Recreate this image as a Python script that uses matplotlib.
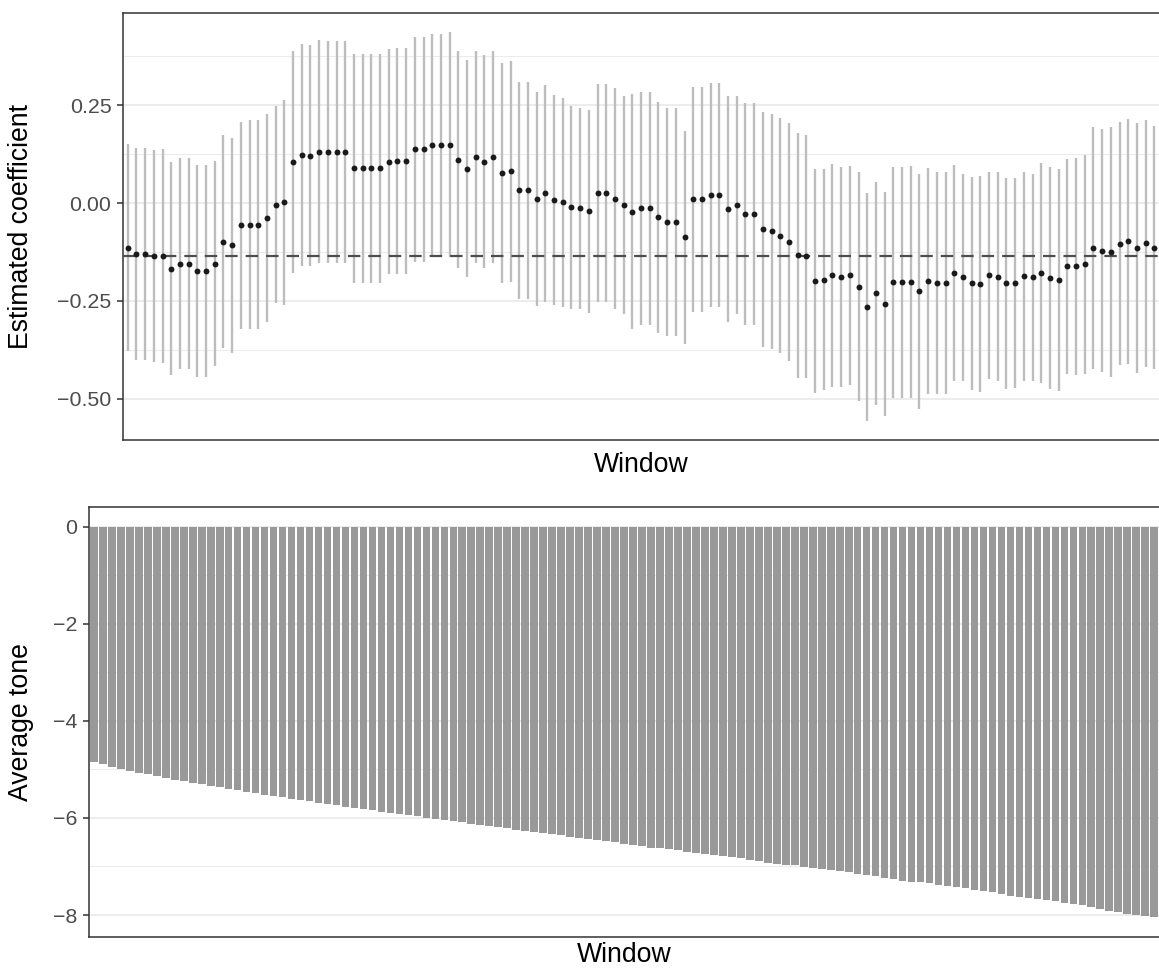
import matplotlib
matplotlib.use("Agg")
import matplotlib.pyplot as plt
import numpy as np

plt.rcParams['font.family'] = ['Liberation Sans', 'DejaVu Sans']

# rolling-window estimates (one per window)
estimate = [
    -0.114, -0.130, -0.130, -0.136, -0.136, -0.168, -0.155, -0.155, -0.173, -0.173,
    -0.155, -0.099, -0.108, -0.057, -0.055, -0.055, -0.038, -0.004, 0.002, 0.105,
    0.123, 0.121, 0.131, 0.130, 0.130, 0.130, 0.089, 0.089, 0.089, 0.089,
    0.106, 0.107, 0.107, 0.137, 0.137, 0.148, 0.148, 0.149, 0.111, 0.088,
    0.117, 0.106, 0.118, 0.077, 0.081, 0.032, 0.032, 0.011, 0.025, 0.008,
    0.002, -0.011, -0.014, -0.021, 0.026, 0.026, 0.011, -0.005, -0.022, -0.014,
    -0.014, -0.037, -0.049, -0.049, -0.088, 0.009, 0.009, 0.021, 0.021, -0.015,
    -0.005, -0.028, -0.028, -0.067, -0.072, -0.084, -0.099, -0.134, -0.136, -0.199,
    -0.196, -0.185, -0.190, -0.185, -0.214, -0.265, -0.231, -0.258, -0.203, -0.203,
    -0.201, -0.226, -0.199, -0.205, -0.205, -0.179, -0.190, -0.205, -0.208, -0.185,
    -0.188, -0.205, -0.205, -0.187, -0.190, -0.180, -0.192, -0.197, -0.162, -0.162,
    -0.157, -0.114, -0.122, -0.126, -0.104, -0.098, -0.115, -0.103, -0.114]

# half width of the confidence interval
ci_half = [
    0.265, 0.270, 0.271, 0.271, 0.273, 0.272, 0.270, 0.270, 0.271, 0.271,
    0.262, 0.272, 0.274, 0.264, 0.266, 0.266, 0.265, 0.252, 0.262, 0.284,
    0.283, 0.282, 0.285, 0.284, 0.284, 0.284, 0.293, 0.293, 0.293, 0.293,
    0.288, 0.289, 0.289, 0.287, 0.287, 0.285, 0.285, 0.287, 0.277, 0.278,
    0.271, 0.272, 0.270, 0.281, 0.282, 0.276, 0.276, 0.273, 0.277, 0.268,
    0.267, 0.260, 0.257, 0.259, 0.279, 0.279, 0.282, 0.279, 0.300, 0.298,
    0.298, 0.295, 0.292, 0.292, 0.273, 0.287, 0.287, 0.286, 0.286, 0.289,
    0.278, 0.284, 0.284, 0.300, 0.300, 0.300, 0.304, 0.313, 0.311, 0.286,
    0.283, 0.285, 0.281, 0.280, 0.292, 0.291, 0.285, 0.287, 0.295, 0.295,
    0.296, 0.301, 0.289, 0.284, 0.284, 0.276, 0.264, 0.272, 0.276, 0.265,
    0.266, 0.270, 0.268, 0.267, 0.265, 0.281, 0.284, 0.283, 0.275, 0.278,
    0.279, 0.309, 0.311, 0.319, 0.311, 0.313, 0.319, 0.315, 0.310]

# average tone per window
tone = [
    -4.85, -4.89, -4.95, -4.99, -5.03, -5.08, -5.10, -5.14, -5.18, -5.22,
    -5.24, -5.28, -5.30, -5.34, -5.37, -5.41, -5.43, -5.47, -5.49, -5.53,
    -5.55, -5.57, -5.61, -5.63, -5.65, -5.70, -5.72, -5.74, -5.78, -5.80,
    -5.82, -5.84, -5.88, -5.90, -5.92, -5.94, -5.96, -6.01, -6.03, -6.05,
    -6.07, -6.09, -6.13, -6.15, -6.17, -6.19, -6.21, -6.25, -6.27, -6.30,
    -6.32, -6.34, -6.36, -6.40, -6.42, -6.44, -6.46, -6.48, -6.50, -6.54,
    -6.56, -6.58, -6.61, -6.63, -6.65, -6.67, -6.71, -6.73, -6.75, -6.77,
    -6.79, -6.81, -6.83, -6.87, -6.89, -6.92, -6.94, -6.96, -6.98, -7.02,
    -7.04, -7.06, -7.08, -7.10, -7.12, -7.16, -7.18, -7.20, -7.23, -7.25,
    -7.29, -7.31, -7.33, -7.35, -7.39, -7.41, -7.43, -7.45, -7.49, -7.51,
    -7.53, -7.56, -7.60, -7.62, -7.64, -7.68, -7.70, -7.72, -7.76, -7.78,
    -7.80, -7.84, -7.87, -7.91, -7.93, -7.97, -7.99, -8.03, -8.05]

full_sample_coef = -0.135

top_ticks = [-0.5, -0.25, 0.0, 0.25]
top_minor = [-0.375, -0.125, 0.125, 0.375]
bottom_ticks = [-8, -6, -4, -2, 0]
bottom_minor = [-7, -5, -3, -1]

window = np.arange(1, len(estimate) + 1)
est = np.array(estimate)
hw = np.array(ci_half)

W, H = 1159, 968
fig = plt.figure(figsize=(W / 100, H / 100), dpi=100)


def add_axes_px(left, top, right, bottom):
    return fig.add_axes([left / W, 1 - bottom / H, (right - left) / W, (bottom - top) / H])


def style(ax, ticks, minor, fmt, xpad):
    ax.set_facecolor("white")
    for s in ax.spines.values():
        s.set_color("#333333")
        s.set_linewidth(1.1)
    ax.set_xticks([])
    ax.set_yticks(ticks)
    ax.set_yticklabels([fmt(t).replace("-", "\u2212") for t in ticks])
    ax.set_yticks(minor, minor=True)
    ax.tick_params(axis="y", which="major", length=4.5, width=1.1, color="#333333",
                   labelsize=15.4, labelcolor="#4d4d4d", pad=3.5)
    ax.tick_params(axis="y", which="minor", length=0)
    ax.grid(True, axis="y", which="major", color="#ebebeb", linewidth=1.3)
    ax.grid(True, axis="y", which="minor", color="#ebebeb", linewidth=0.7)
    ax.set_axisbelow(True)
    ax.set_xlim(0.4, len(window) + 0.6)
    ax.set_xlabel("Window", fontsize=19.2, labelpad=xpad)


# top panel: estimated coefficient by window
ax1 = add_axes_px(122.5, 13, 1159.6, 440)
ax1.vlines(window, est - hw, est + hw, color="#bdbdbd", linewidth=1.7, zorder=2)
ax1.axhline(full_sample_coef, color="#4d4d4d", linewidth=1.6, linestyle=(0, (5.6, 3.6)), zorder=3)
ax1.scatter(window, est, s=18, color="#1a1a1a", linewidths=0, zorder=4)
lo = (est - hw).min()
hi = (est + hw).max()
pad = (hi - lo) * 0.05
ax1.set_ylim(lo - pad, hi + pad)
style(ax1, top_ticks, top_minor, lambda t: f"{t:.2f}", 8.5)
ax1.set_ylabel("Estimated coefficient", fontsize=19.2)
ax1.yaxis.set_label_coords((34 - 122.5) / 1037, 0.5)

# bottom panel: average tone by window
ax2 = add_axes_px(88.5, 507, 1159.6, 937)
ax2.bar(window, tone, width=0.85, color="#999999", zorder=2)
ax2.set_ylim(min(tone) * 1.05, -min(tone) * 0.05)
style(ax2, bottom_ticks, bottom_minor, lambda t: f"{t:d}", 3.5)
ax2.set_ylabel("Average tone", fontsize=19.2)
ax2.yaxis.set_label_coords((34 - 88.5) / 1071, 0.5)

fig.savefig("out.png", dpi=100)
